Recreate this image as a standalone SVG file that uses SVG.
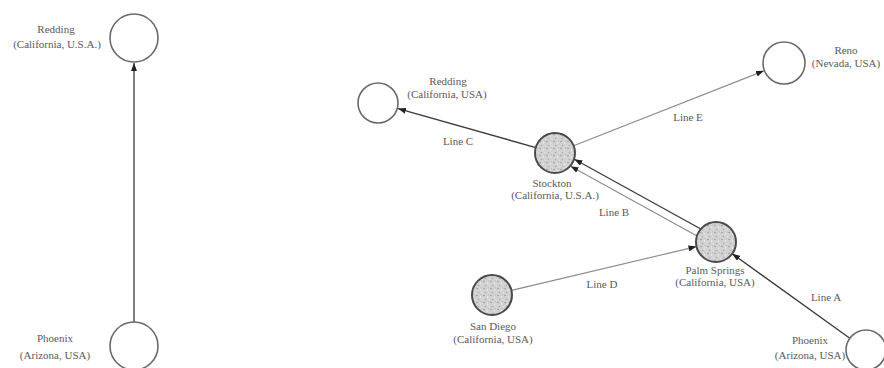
<svg xmlns="http://www.w3.org/2000/svg" width="884" height="368" viewBox="0 0 884 368">
  <defs>
    <style>
      .node { fill: #ffffff; stroke: #6a6a6a; stroke-width: 1.6; }
      .hub { fill: url(#grain); stroke: #4a4a4a; stroke-width: 2; }
      .lbl { font-family: "Liberation Serif", "DejaVu Serif", "Times New Roman", serif; font-size: 11px; fill: #5a5a5a; text-anchor: middle; }
      .dark { stroke: #3a3a3a; stroke-width: 1.3; fill: none; }
      .light { stroke: #8a8a8a; stroke-width: 1.1; fill: none; }
    </style>
    <!-- speckled fill for the transfer stations -->
    <pattern id="grain" width="7" height="7" patternUnits="userSpaceOnUse">
      <rect width="7" height="7" fill="#d2d2d2"/>
      <circle cx="1" cy="1.5" r="0.8" fill="#9a9a9a"/>
      <circle cx="4.5" cy="3" r="0.7" fill="#f2f2f2"/>
      <circle cx="2.5" cy="5.5" r="0.8" fill="#aaaaaa"/>
      <circle cx="6" cy="6" r="0.6" fill="#eeeeee"/>
      <circle cx="5.5" cy="0.8" r="0.5" fill="#b0b0b0"/>
    </pattern>
    <marker id="arrow" viewBox="0 0 8 6" refX="8" refY="3" markerWidth="8" markerHeight="6" markerUnits="userSpaceOnUse" orient="auto">
      <path d="M0,0 L8,3 L0,6 z" fill="#222222"/>
    </marker>
  </defs>

  <rect width="884" height="368" fill="#ffffff"/>

  <!-- connectors -->
  <g id="connectors">
    <!-- direct route -->
    <line class="dark" x1="134" y1="322" x2="134" y2="63" marker-end="url(#arrow)"/>
    <!-- Line C: Stockton to Redding -->
    <line class="dark" x1="535.8" y1="147.6" x2="398" y2="108.6" marker-end="url(#arrow)"/>
    <!-- Line E: Stockton to Reno -->
    <line class="light" x1="573.6" y1="145.7" x2="764" y2="70.8" marker-end="url(#arrow)"/>
    <!-- Line B: Palm Springs to Stockton (two runs) -->
    <line class="dark" x1="700.4" y1="228.8" x2="574.4" y2="159.2" marker-end="url(#arrow)"/>
    <line class="light" x1="696.6" y1="235.8" x2="570.6" y2="166.2" marker-end="url(#arrow)"/>
    <!-- Line D: San Diego to Palm Springs -->
    <line class="light" x1="511.5" y1="290.4" x2="696.5" y2="246.6" marker-end="url(#arrow)"/>
    <!-- Line A: Phoenix to Palm Springs -->
    <line class="dark" x1="849.8" y1="338.3" x2="732.2" y2="253.7" marker-end="url(#arrow)"/>
    <text class="lbl" x="458" y="145">Line C</text>
    <text class="lbl" x="688" y="121">Line E</text>
    <text class="lbl" x="614" y="216">Line B</text>
    <text class="lbl" x="602" y="288">Line D</text>
    <text class="lbl" x="826" y="301">Line A</text>
  </g>

  <!-- left: point-to-point -->
  <g id="redding-left">
    <circle class="node" cx="134" cy="38" r="24"/>
    <text class="lbl" x="56" y="33">Redding</text>
    <text class="lbl" x="57" y="48">(California, U.S.A.)</text>
  </g>
  <g id="phoenix-left">
    <circle class="node" cx="134" cy="346" r="24"/>
    <text class="lbl" x="55" y="342">Phoenix</text>
    <text class="lbl" x="55" y="359">(Arizona, USA)</text>
  </g>

  <!-- right: hub network -->
  <g id="redding">
    <circle class="node" cx="378" cy="103" r="20"/>
    <text class="lbl" x="448" y="85">Redding</text>
    <text class="lbl" x="447" y="98">(California, USA)</text>
  </g>
  <g id="reno">
    <circle class="node" cx="784" cy="63" r="21"/>
    <text class="lbl" x="846" y="54">Reno</text>
    <text class="lbl" x="846" y="67">(Nevada, USA)</text>
  </g>
  <g id="stockton">
    <circle class="hub" cx="555" cy="153" r="20"/>
    <text class="lbl" x="552" y="187">Stockton</text>
    <text class="lbl" x="555" y="199">(California, U.S.A.)</text>
  </g>
  <g id="palm-springs">
    <circle class="hub" cx="716" cy="242" r="20"/>
    <text class="lbl" x="715" y="274">Palm Springs</text>
    <text class="lbl" x="715" y="286">(California, USA)</text>
  </g>
  <g id="san-diego">
    <circle class="hub" cx="492" cy="295" r="20"/>
    <text class="lbl" x="493" y="330">San Diego</text>
    <text class="lbl" x="493" y="343">(California, USA)</text>
  </g>
  <g id="phoenix">
    <circle class="node" cx="866" cy="350" r="20"/>
    <text class="lbl" x="810" y="344">Phoenix</text>
    <text class="lbl" x="810" y="359">(Arizona, USA)</text>
  </g>
</svg>
